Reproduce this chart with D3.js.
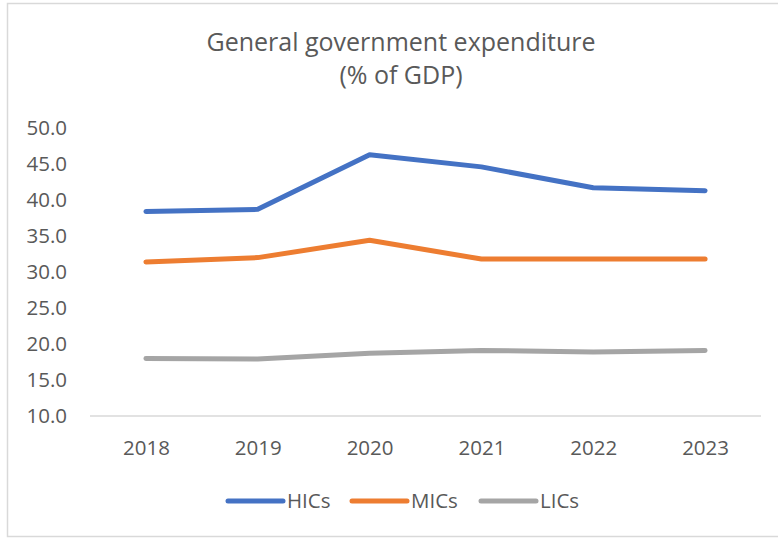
<!DOCTYPE html>
<html>
<head>
<meta charset="utf-8">
<script src="https://cdn.jsdelivr.net/npm/d3@7/dist/d3.min.js"></script>
<style>
  html, body { margin: 0; padding: 0; background: #fff; }
  svg { display: block; font-family: "Open Sans", sans-serif; }
</style>
</head>
<body>
<svg id="chart" width="778" height="539"></svg>
<script>
// Years on the category axis
const years = ["2018", "2019", "2020", "2021", "2022", "2023"];
// General government expenditure, % of GDP, by income group
const hics = [38.4, 38.7, 46.3, 44.6, 41.7, 41.3];
const mics = [31.4, 32.0, 34.4, 31.8, 31.8, 31.8];
const lics = [18.0, 17.9, 18.7, 19.1, 18.9, 19.1];
const seriesNames = ["HICs", "MICs", "LICs"];
const seriesColors = ["#4472c4", "#ed7d31", "#a5a5a5"];
const yTicks = [10, 15, 20, 25, 30, 35, 40, 45, 50];

const series = [hics, mics, lics].map((values, i) => ({
  name: seriesNames[i], color: seriesColors[i], values
}));

const svg = d3.select("#chart");
const textColor = "#595959";
const fontStack = "'Open Sans', sans-serif";
const labelSize = 20.5;

// chart frame
svg.append("rect")
  .attr("x", 7.5).attr("y", 3.5)
  .attr("width", 790).attr("height", 533)
  .attr("fill", "#fff").attr("stroke", "#d9d9d9").attr("stroke-width", 1.5);

// title
const title = svg.append("text")
  .attr("text-anchor", "middle")
  .attr("fill", textColor)
  .attr("font-size", 25);
title.append("tspan").attr("x", 401).attr("y", 51).text("General government expenditure");
title.append("tspan").attr("x", 401).attr("y", 84).text("(% of GDP)");

const plotLeft = 90, plotRight = 761, plotTop = 128, plotBottom = 416;

const x = d3.scalePoint().domain(years).range([plotLeft, plotRight]).padding(0.5);
const y = d3.scaleLinear().domain([10, 50]).range([plotBottom, plotTop]);

// y axis labels (no axis line)
const yAxis = d3.axisLeft(y).tickValues(yTicks).tickFormat(d3.format(".1f")).tickSize(0).tickPadding(0);
svg.append("g")
  .attr("transform", `translate(67,0)`)
  .call(yAxis)
  .call(g => g.select(".domain").remove())
  .call(g => g.selectAll("text")
    .attr("fill", textColor).attr("font-size", labelSize).attr("font-family", fontStack));

// x axis
const xAxis = d3.axisBottom(x).tickSize(0).tickPadding(0);
svg.append("g")
  .attr("transform", `translate(0,${plotBottom})`)
  .call(xAxis)
  .call(g => g.select(".domain").attr("stroke", "#d9d9d9").attr("stroke-width", 1.5)
    .attr("d", `M${plotLeft},0H${plotRight}`))
  .call(g => g.selectAll("text")
    .attr("dy", 0).attr("y", 39)
    .attr("fill", textColor).attr("font-size", labelSize).attr("font-family", fontStack));

// lines
const line = d3.line().x((d, i) => x(years[i])).y(d => y(d));
svg.append("g").selectAll("path")
  .data(series)
  .join("path")
  .attr("d", d => line(d.values))
  .attr("fill", "none")
  .attr("stroke", d => d.color)
  .attr("stroke-width", 5)
  .attr("stroke-linecap", "round")
  .attr("stroke-linejoin", "round");

// legend
const legendX = [228, 352, 481];
const legend = svg.append("g").selectAll("g")
  .data(series)
  .join("g")
  .attr("transform", (d, i) => `translate(${legendX[i]},501)`);
legend.append("line")
  .attr("x1", 0).attr("x2", 55).attr("y1", 0).attr("y2", 0)
  .attr("stroke", d => d.color).attr("stroke-width", 5).attr("stroke-linecap", "round");
legend.append("text")
  .attr("x", 59).attr("y", 7)
  .attr("fill", textColor).attr("font-size", labelSize)
  .text(d => d.name);
</script>
</body>
</html>
